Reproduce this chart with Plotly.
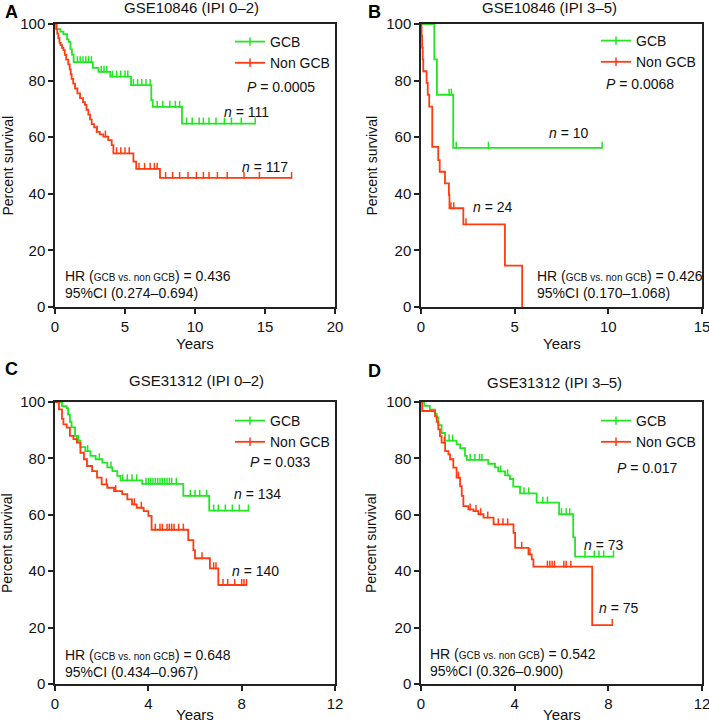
import plotly.graph_objects as go

# ---------------- DATA ----------------
# Panel A: GSE10846 (IPI 0-2)
A_gcb_t = [0, 0.14, 0.38, 0.6, 0.86, 0.98, 1.1, 1.21, 1.33, 2.7, 3.1, 3.95, 5.43, 6.88, 6.98, 9.07]
A_gcb_s = [100, 98.2, 97.3, 96.4, 94.6, 93.7, 91.0, 89.2, 86.5, 84.5, 83.1, 81.4, 78.4, 73.1, 70.7, 64.8]
A_gcb_c = [1.6, 1.8, 2.0, 2.2, 2.4, 2.6, 3.3, 3.5, 3.7, 4.1, 4.4, 4.7, 5.0, 5.2, 5.6, 5.9, 6.2, 6.5, 6.8,
           7.3, 7.7, 8.2, 8.6, 8.9, 9.4, 9.8, 10.3, 10.6, 11.0, 11.5, 12.1, 12.6, 13.3, 14.3]
A_non_t = [0, 0.08, 0.16, 0.24, 0.32, 0.4, 0.5, 0.6, 0.7, 0.8, 0.95, 1.05, 1.12, 1.19, 1.3, 1.43, 1.6,
           1.79, 2.0, 2.14, 2.25, 2.38, 2.5, 2.62, 2.8, 2.98, 3.2, 3.45, 3.8, 4.05, 4.17, 5.6, 5.8, 7.5]
A_non_s = [100, 98.3, 96.6, 95.0, 93.3, 92.5, 91.6, 90.8, 89.1, 87.4, 85.7, 84.0, 82.3, 80.6, 78.9, 77.2,
           75.5, 73.8, 72.4, 71.4, 69.7, 68.0, 66.3, 64.6, 63.5, 61.9, 61.0, 60.2, 59.0, 57.2, 54.3, 51.4,
           48.8, 45.6]
A_non_c = [3.0, 3.6, 4.4, 4.7, 5.0, 5.3, 6.0, 6.4, 6.8, 7.1, 7.3, 7.9, 8.4, 8.9, 9.5, 10.1, 10.6, 11.0,
           11.6, 12.3, 13.5, 14.6, 16.9]

# Panel B: GSE10846 (IPI 3-5)
B_gcb_t = [0, 0.71, 0.85, 1.72]
B_gcb_s = [100, 87.5, 75.0, 56.25]
B_gcb_c = [1.5, 1.62, 1.88, 3.6, 9.67]
B_non_t = [0, 0.03, 0.06, 0.09, 0.12, 0.3, 0.36, 0.44, 0.6, 0.92, 1.0, 1.28, 1.49, 1.52, 2.26, 4.48, 5.4]
B_non_s = [100, 95.8, 91.7, 87.5, 83.3, 79.2, 75.0, 70.8, 56.6, 51.9, 47.8, 43.7, 39.6, 34.9, 29.2, 14.6, 0]
B_non_c = [1.6, 1.75, 2.4]

# Panel C: GSE31312 (IPI 0-2)
C_gcb_t = [0, 0.3, 0.5, 0.56, 0.64, 0.71, 0.86, 0.94, 1.09, 1.3, 1.52, 1.74, 2.03, 2.24, 2.46, 2.67,
           2.81, 3.74, 5.5, 6.61]
C_gcb_s = [100, 98.5, 97.8, 95.5, 93.0, 91.0, 88.0, 86.3, 84.0, 82.6, 80.9, 79.7, 78.5, 76.8, 75.5, 73.8,
           72.2, 71.0, 66.7, 61.5]
C_gcb_c = [1.0, 1.4, 1.9, 2.4, 2.9, 3.1, 3.3, 3.5, 3.9, 4.0, 4.1, 4.2, 4.3, 4.4, 4.5, 4.6, 4.7, 4.8, 4.9,
           5.0, 5.2, 5.8, 6.0, 6.2, 6.5, 6.8, 7.0, 7.3, 7.6, 7.9, 8.29]
C_non_t = [0, 0.17, 0.3, 0.36, 0.5, 0.64, 0.79, 0.94, 1.09, 1.24, 1.37, 1.59, 1.8, 2.0, 2.24, 2.53, 2.88,
           3.1, 3.3, 3.5, 3.8, 4.0, 4.14, 5.71, 5.93, 6.0, 6.64, 7.0]
C_non_s = [100, 97.4, 94.0, 92.1, 90.9, 88.0, 86.8, 85.6, 82.0, 79.7, 77.3, 75.5, 73.2, 70.8, 69.6, 68.4,
           67.3, 65.5, 63.7, 62.5, 61.3, 59.6, 54.7, 51.0, 47.5, 44.6, 41.0, 35.1]
C_non_c = [2.2, 2.6, 3.4, 3.7, 4.3, 4.5, 4.6, 4.8, 4.9, 5.0, 5.1, 5.3, 5.5, 6.3, 6.8, 6.9, 7.2, 7.4, 7.7,
           8.0, 8.1, 8.21]

# Panel D: GSE31312 (IPI 3-5)
D_gcb_t = [0, 0.14, 0.38, 0.6, 0.67, 0.74, 0.88, 1.03, 1.52, 1.67, 1.88, 1.96, 2.87, 3.16, 3.3, 3.59,
           3.8, 3.94, 4.23, 4.94, 5.9, 6.5, 6.58]
D_gcb_s = [100, 98.6, 97.3, 95.9, 94.5, 91.8, 89.0, 86.3, 85.0, 83.6, 80.9, 79.5, 78.1, 76.8, 75.4, 74.0,
           72.7, 70.0, 67.6, 64.3, 60.2, 52.0, 45.2]
D_gcb_c = [1.2, 1.35, 2.1, 2.3, 2.5, 2.6, 3.4, 3.7, 4.4, 4.6, 5.2, 5.4, 6.0, 6.2, 6.35, 7.0, 7.4, 7.6,
           7.8, 8.22]
D_non_t = [0, 0.05, 0.6, 0.67, 0.74, 0.81, 0.88, 1.03, 1.17, 1.24, 1.38, 1.52, 1.67, 1.74, 1.81, 2.02,
           2.24, 2.45, 2.67, 3.1, 3.95, 4.02, 4.59, 4.73, 4.8, 7.31]
D_non_s = [100, 96.8, 95.0, 93.0, 90.3, 87.9, 85.6, 82.6, 81.4, 79.7, 76.7, 73.2, 70.2, 66.7, 63.1, 61.9,
           61.3, 60.2, 59.0, 56.6, 53.6, 48.3, 46.0, 44.2, 41.6, 20.9]
D_non_c = [1.0, 1.6, 2.1, 2.35, 2.55, 2.85, 3.3, 3.5, 3.7, 4.3, 4.65, 5.4, 5.5, 5.6, 5.7, 6.1, 6.2, 6.4,
           8.17]

titles = ["GSE10846 (IPI 0\u20132)", "GSE10846 (IPI 3\u20135)", "GSE31312 (IPI 0\u20132)", "GSE31312 (IPI 3\u20135)"]
letters = ["A", "B", "C", "D"]
p_values = ["0.0005", "0.0068", "0.033", "0.017"]
n_gcb = [111, 10, 134, 73]
n_non = [117, 24, 140, 75]
hr_values = ["0.436", "0.426", "0.648", "0.542"]
ci_values = ["0.274\u20130.694", "0.170\u20131.068", "0.434\u20130.967", "0.326\u20130.900"]
x_max = [20, 15, 12, 12]
x_dtick = [5, 5, 4, 4]

GREEN = "#22e622"
RED = "#ff3c10"
FONT = "Arial, Liberation Sans, Helvetica, sans-serif"

panels = [
    (A_gcb_t, A_gcb_s, A_gcb_c, A_non_t, A_non_s, A_non_c),
    (B_gcb_t, B_gcb_s, B_gcb_c, B_non_t, B_non_s, B_non_c),
    (C_gcb_t, C_gcb_s, C_gcb_c, C_non_t, C_non_s, C_non_c),
    (D_gcb_t, D_gcb_s, D_gcb_c, D_non_t, D_non_s, D_non_c),
]

# layout geometry (paper fractions)
W, H = 709, 724
xdom = [(55 / W, 335 / W), (421 / W, 702 / W), (55 / W, 335 / W), (421 / W, 702 / W)]
ydom = [(1 - 307 / H, 1 - 24 / H), (1 - 307 / H, 1 - 24 / H), (1 - 684 / H, 1 - 402 / H), (1 - 684 / H, 1 - 402 / H)]

# annotation positions in data units: (P x,y), (n_gcb x,y), (n_non x,y), (HR x,y), (CI x,y)
ann_pos = [
    [(13.6, 77.7), (11.9, 68.9), (13.2, 49.5), (0.57, 11.0), (0.57, 5.0)],
    [(9.75, 78.8), (6.7, 61.5), (2.66, 35.3), (6.07, 11.0), (6.07, 5.0)],
    [(8.27, 78.7), (7.59, 67.4), (7.5, 40.0), (0.34, 10.3), (0.34, 4.3)],
    [(8.28, 76.6), (6.87, 49.3), (7.5, 27.0), (0.3, 10.5), (0.3, 4.6)],
]
legend_pos = [(230 / W, 1 - 26 / H), (596 / W, 1 - 25 / H), (230 / W, 1 - 405 / H), (596 / W, 1 - 405 / H)]
title_pos = [(191 / W, 1 - 8 / H), (549 / W, 1 - 8 / H), (196 / W, 1 - 380 / H), (554 / W, 1 - 382 / H)]
letter_pos = [(3 / W, 1 - 12 / H), (366 / W, 1 - 12 / H), (3 / W, 1 - 369 / H), (366 / W, 1 - 371 / H)]
ytitle_x = [7 / W, 371 / W, 7 / W, 371 / W]
xtitle_y = [1 - 343 / H, 1 - 343 / H, 1 - 714 / H, 1 - 714 / H]


def surv_at(ts, ss, c):
    v = ss[0]
    for t, s in zip(ts, ss):
        if t <= c:
            v = s
    return v


fig = go.Figure()
annotations = []
layout = {}

for i, (gt, gs, gc, nt, ns, nc) in enumerate(panels):
    k = "" if i == 0 else str(i + 1)
    xa, ya = "x" + k, "y" + k
    leg = "legend" + k
    for name, ts, ss, cs, col in [("GCB", gt, gs, gc, GREEN), ("Non GCB", nt, ns, nc, RED)]:
        xs = list(ts)
        ys = list(ss)
        if cs and cs[-1] > ts[-1]:
            xs.append(cs[-1])
            ys.append(ss[-1])
        fig.add_trace(go.Scatter(x=xs, y=ys, mode="lines", line=dict(color=col, width=1.8, shape="hv"),
                                 xaxis=xa, yaxis=ya, showlegend=False, hoverinfo="skip", cliponaxis=False))
        cy = [surv_at(ts, ss, c) + 0.9 for c in cs]
        fig.add_trace(go.Scatter(x=cs, y=cy, mode="markers",
                                 marker=dict(symbol="line-ns", size=5, line=dict(color=col, width=1.5)),
                                 xaxis=xa, yaxis=ya, showlegend=False, hoverinfo="skip", cliponaxis=False))
        fig.add_trace(go.Scatter(x=[None], y=[None], mode="lines+markers", name=name,
                                 line=dict(color=col, width=1.8),
                                 marker=dict(symbol="line-ns", size=6, line=dict(color=col, width=1.5)),
                                 xaxis=xa, yaxis=ya, showlegend=True, legend=leg))
    axis_common = dict(showline=True, linecolor="#222", linewidth=1.5, mirror=True, ticks="outside",
                       ticklen=5, tickwidth=1.5, tickcolor="#222", showgrid=False, zeroline=False,
                       automargin=False, ticklabeloverflow="allow",
                       tickfont=dict(family=FONT, size=15, color="#111"))
    layout["xaxis" + k] = dict(domain=list(xdom[i]), range=[0, x_max[i]], dtick=x_dtick[i], tick0=0,
                               anchor=ya, **axis_common)
    layout["yaxis" + k] = dict(domain=list(ydom[i]), range=[0, 100], dtick=20, tick0=0, anchor=xa,
                               **axis_common)
    layout[leg] = dict(x=legend_pos[i][0], y=legend_pos[i][1], xanchor="left", yanchor="top",
                       bgcolor="rgba(0,0,0,0)", font=dict(family=FONT, size=14, color="#111"),
                       tracegroupgap=0, itemwidth=30)

    pos = ann_pos[i]
    txts = [f"<i>P</i> = {p_values[i]}", f"<i>n</i> = {n_gcb[i]}", f"<i>n</i> = {n_non[i]}",
            f"HR (<span style='font-size:10px'>GCB vs. non GCB</span>) = {hr_values[i]}",
            f"95%CI ({ci_values[i]})"]
    for (px, py), t in zip(pos, txts):
        annotations.append(dict(x=px, y=py, xref=xa, yref=ya, text=t, showarrow=False, xanchor="left",
                                yanchor="middle", font=dict(family=FONT, size=14, color="#111")))
    annotations.append(dict(x=title_pos[i][0], y=title_pos[i][1], xref="paper", yref="paper", text=titles[i],
                            showarrow=False, xanchor="center", yanchor="middle",
                            font=dict(family=FONT, size=15, color="#111")))
    annotations.append(dict(x=letter_pos[i][0], y=letter_pos[i][1], xref="paper", yref="paper",
                            text=f"<b>{letters[i]}</b>", showarrow=False, xanchor="left", yanchor="middle",
                            font=dict(family=FONT, size=18, color="#000")))
    annotations.append(dict(x=ytitle_x[i], y=(ydom[i][0] + ydom[i][1]) / 2, xref="paper", yref="paper",
                            text="Percent survival", textangle=-90, showarrow=False, xanchor="center",
                            yanchor="middle", font=dict(family=FONT, size=14, color="#111")))
    annotations.append(dict(x=(xdom[i][0] + xdom[i][1]) / 2, y=xtitle_y[i], xref="paper", yref="paper",
                            text="Years", showarrow=False, xanchor="center", yanchor="middle",
                            font=dict(family=FONT, size=15, color="#111")))

fig.update_layout(width=W, height=H, margin=dict(l=0, r=0, t=0, b=0, autoexpand=False),
                  plot_bgcolor="white", paper_bgcolor="white", annotations=annotations,
                  font=dict(family=FONT), **layout)

fig.write_html("out.html", config={"displayModeBar": False},
               post_script="document.body.style.margin='0px';document.body.style.overflow='hidden';")
